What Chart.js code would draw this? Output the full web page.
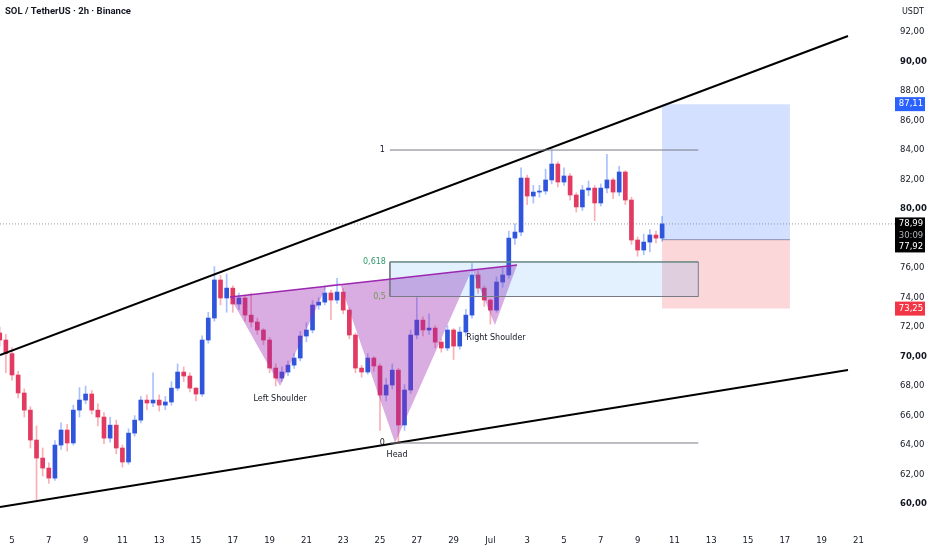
<!DOCTYPE html>
<html>
<head>
<meta charset="utf-8">
<script src="https://cdn.jsdelivr.net/npm/chart.js@4"></script>
<style>
  html, body { margin: 0; padding: 0; background: #ffffff; }
  #wrap { position: relative; width: 932px; height: 550px; }
</style>
</head>
<body>
<div id="wrap"><canvas id="solChart"></canvas></div>
<script>
// SOL/USDT, 8h candles (x = days since 5 June)
const firstOpen = 71.6;
const closes = [
  71.12, 70.2, 68.75, 67.53, 66.37, 64.34, 63.12, 62.44, 61.76, 64.0,
  65.02, 64.14, 66.37, 67.05, 67.46, 66.37, 65.9, 64.47, 65.35, 63.8,
  62.85, 64.81, 65.69, 67.05, 66.85, 67.05, 66.71, 66.92, 67.86, 68.95,
  68.68, 67.86, 67.46, 71.12, 72.61, 75.19, 73.97, 74.64, 73.56, 73.97,
  72.81, 72.34, 71.8, 71.12, 69.22, 68.54, 68.95, 69.42, 69.9, 71.39,
  71.8, 73.49, 73.69, 74.31, 73.83, 74.37, 73.15, 71.46, 69.22, 68.95,
  69.9, 69.36, 67.39, 68.07, 69.08, 65.36, 67.73, 71.46, 72.47, 71.8,
  71.93, 70.98, 70.58, 71.8, 70.71, 71.66, 72.81, 75.53, 74.64, 73.83,
  73.15, 75.05, 75.53, 78.03, 78.44, 82.1, 80.88, 81.15, 81.22, 81.97,
  83.05, 81.83, 82.24, 80.95, 80.14, 81.29, 81.42, 80.41, 81.42, 81.97,
  81.15, 82.51, 80.61, 77.9, 77.22, 77.76, 78.24, 78.03, 78.99
];
const highs = [
  72.0, 71.5, 70.6, 69.0, 67.8, 66.6, 65.3, 63.8, 62.8, 64.3,
  65.5, 65.4, 66.7, 67.9, 68.0, 67.7, 66.8, 66.2, 65.9, 65.7,
  64.0, 65.1, 66.0, 67.3, 67.4, 68.9, 67.4, 67.3, 68.3, 69.5,
  69.3, 68.9, 67.9, 71.4, 73.0, 76.1, 75.5, 75.6, 74.8, 74.3,
  74.1, 74.3, 72.6, 71.9, 71.3, 69.5, 69.3, 69.7, 70.2, 71.7,
  72.3, 73.8, 74.0, 74.8, 74.5, 75.3, 74.6, 73.3, 71.6, 69.4,
  70.2, 70.0, 69.5, 68.5, 69.5, 69.2, 68.1, 71.8, 74.0, 72.7,
  72.9, 72.1, 71.2, 72.1, 71.9, 72.0, 73.2, 76.3, 75.8, 74.8,
  73.9, 75.4, 76.0, 78.5, 79.0, 82.8, 82.3, 81.6, 81.6, 82.7,
  84.0, 83.2, 82.8, 82.4, 81.1, 81.6, 81.9, 81.6, 81.7, 83.7,
  82.1, 82.9, 82.6, 80.8, 78.1, 78.3, 78.6, 78.5, 79.5
];
const lows = [
  70.7, 68.9, 68.4, 67.2, 65.9, 63.8, 60.3, 61.9, 61.4, 61.6,
  63.7, 63.6, 64.0, 65.9, 66.8, 66.1, 65.3, 64.1, 64.2, 63.4,
  62.5, 62.7, 64.6, 65.5, 66.4, 66.6, 66.3, 66.4, 66.7, 67.7,
  68.3, 67.6, 67.0, 67.3, 70.9, 72.4, 73.5, 73.0, 73.0, 73.2,
  72.4, 72.0, 71.5, 70.8, 68.9, 68.0, 68.3, 68.7, 69.2, 69.7,
  71.0, 71.6, 73.2, 73.5, 72.5, 73.6, 72.9, 71.2, 68.9, 68.6,
  68.8, 69.0, 65.0, 67.0, 67.8, 64.1, 65.0, 67.5, 71.2, 71.4,
  71.5, 70.6, 70.3, 70.4, 69.8, 70.5, 71.4, 72.6, 74.3, 73.4,
  72.2, 73.0, 74.7, 75.3, 77.6, 78.2, 80.3, 80.4, 80.8, 81.0,
  81.7, 81.5, 81.6, 80.6, 79.8, 79.9, 80.9, 79.2, 80.2, 81.1,
  80.7, 80.9, 80.3, 77.6, 76.8, 76.9, 77.1, 77.7, 77.8
];
const xTickLabels = ['5','7','9','11','13','15','17','19','21','23','25','27','29',
  'Jul','3','5','7','9','11','13','15','17','19','21'];

// drawings (day, price)
const upperTrend = [[-0.652, 70.10], [45.435, 91.73]];
const lowerTrend = [[-0.652, 59.80], [45.435, 69.085]];
const hsPoints = [[11.85, 74.03], [14.57, 68.0], [17.12, 74.85], [17.83, 74.95],
  [20.82, 64.14], [25.0, 75.9], [26.25, 72.14], [27.45, 76.2]];
const fibHigh = 84.0, fibLow = 64.14;
const fibLevels = [0.618, 0.5];
const fibRange = [20.54, 37.3];
const lastPrice = 78.99, entry = 77.92, target = 87.11, stop = 73.25;
const positionRange = [35.33, 42.28];

const firstDay = -2 / 3;
const opens = closes.map((c, i) => i === 0 ? firstOpen : closes[i - 1]);
const bodies = closes.map((c, i) => ({ x: firstDay + i / 3, y: [opens[i], c] }));
const wicks = closes.map((c, i) => ({ x: firstDay + i / 3, y: [lows[i], highs[i]] }));
const isUp = i => closes[i] >= opens[i];

const pts = arr => arr.map(p => ({ x: p[0], y: p[1] }));
const rect = (x0, x1, y0, y1) => [{x: x0, y: y0}, {x: x1, y: y0}, {x: x1, y: y1}, {x: x0, y: y1}, {x: x0, y: y0}];
const fib618 = fibLow + fibLevels[0] * (fibHigh - fibLow);
const fib50 = fibLow + fibLevels[1] * (fibHigh - fibLow);

const X_MIN = -0.652, X_MAX = 47.99, Y_MIN = 58.92, Y_MAX = 94.17;
const font = "'DejaVu Sans', sans-serif";
const fmt = v => v.toFixed(2).replace('.', ',');

function line(data, color, width, extra) {
  return Object.assign({ type: 'line', data: data, borderColor: color, borderWidth: width,
    pointRadius: 0, fill: false, tension: 0, order: 1 }, extra || {});
}

const overlay = {
  id: 'overlay',
  afterDatasetsDraw(chart) {
    const c = chart.ctx, xs = chart.scales.x, ys = chart.scales.y;
    const px = v => xs.getPixelForValue(v), py = v => ys.getPixelForValue(v);
    c.save();
    c.textBaseline = 'middle';
    c.font = "8px 'DejaVu Sans', sans-serif";
    c.fillStyle = '#131722';
    c.textAlign = 'center';
    c.fillText('Left Shoulder', px(hsPoints[1][0]), py(hsPoints[1][1]) + 13);
    c.fillText('Head', px(hsPoints[4][0]) + 2, py(hsPoints[4][1]) + 12);
    c.fillText('Right Shoulder', px(hsPoints[6][0]) + 1, py(hsPoints[6][1]) + 13);
    c.textAlign = 'right';
    c.fillText('1', px(fibRange[0]) - 5, py(fibHigh));
    c.fillText('0', px(fibRange[0]) - 5, py(fibLow));
    c.fillStyle = '#2e9a6a';
    c.fillText('0,618', px(fibRange[0]) - 4, py(fib618));
    c.fillStyle = '#6e9a55';
    c.fillText('0,5', px(fibRange[0]) - 4, py(fib50));
    c.restore();
  },
  afterDraw(chart) {
    const c = chart.ctx, ys = chart.scales.y, ca = chart.chartArea;
    const py = v => ys.getPixelForValue(v);
    const bx = ca.right, bw = 30, cx = bx + bw / 2 + 1;
    c.save();
    c.textBaseline = 'middle';
    c.font = "bold 9.5px Roboto, sans-serif";
    c.fillStyle = '#131722';
    c.textAlign = 'left';
    c.fillText('SOL / TetherUS \u00b7 2h \u00b7 Binance', 5, 12);
    c.font = "8px " + font;
    c.textAlign = 'center';
    c.fillText('USDT', bx + 18, 12);
    const tag = (v, bg) => {
      const y = py(v);
      c.fillStyle = bg;
      c.fillRect(bx, y - 7, bw, 14);
      c.fillStyle = '#ffffff';
      c.fillText(fmt(v), cx, y);
    };
    c.font = "8.5px " + font;
    tag(target, '#2962ff');
    tag(stop, '#f23645');
    const y0 = py(lastPrice);
    c.fillStyle = '#000000';
    c.fillRect(bx, y0 - 6.5, bw, 35);
    c.fillStyle = '#ffffff';
    c.fillText(fmt(lastPrice), cx, y0);
    c.fillText(fmt(entry), cx, y0 + 23);
    c.fillStyle = '#b2b5be';
    c.fillText('30:09', cx, y0 + 11.5);
    c.restore();
  }
};

new Chart(document.getElementById('solChart'), {
  type: 'bar',
  data: {
    datasets: [
      line(rect(positionRange[0], positionRange[1], entry, target), 'rgba(0,0,0,0)', 0,
        { fill: 'shape', backgroundColor: 'rgba(41,98,255,0.2)', order: 9 }),
      line(rect(positionRange[0], positionRange[1], stop, entry), 'rgba(0,0,0,0)', 0,
        { fill: 'shape', backgroundColor: 'rgba(242,54,69,0.2)', order: 9 }),
      line([{x: positionRange[0], y: entry}, {x: positionRange[1], y: entry}], '#9598a1', 1, { order: 9 }),
      line([{x: X_MIN, y: lastPrice}, {x: X_MAX, y: lastPrice}], '#9598a1', 1, { borderDash: [1, 2], order: 8 }),
      {
        type: 'bar', data: wicks, grouped: false, barThickness: 1, order: 6,
        backgroundColor: ctx => isUp(ctx.dataIndex) ? 'rgba(41,98,255,0.4)' : 'rgba(242,54,69,0.4)'
      },
      {
        type: 'bar', data: bodies, grouped: false, barThickness: 4, minBarLength: 1, order: 5,
        backgroundColor: ctx => isUp(ctx.dataIndex) ? '#2f55dc' : '#e23a60'
      },
      line(rect(fibRange[0], fibRange[1], fib50, fib618), '#787b86', 1,
        { fill: 'shape', backgroundColor: 'rgba(33,150,243,0.13)', order: 2 }),
      line([{x: fibRange[0], y: fib618}, {x: fibRange[1], y: fib618}], '#3f9a6e', 1, { order: 2 }),
      line([{x: fibRange[0], y: fib50}, {x: fibRange[1], y: fib50}], '#5f9a50', 1, { order: 2 }),
      line([{x: fibRange[0], y: fibHigh}, {x: fibRange[1], y: fibHigh}], '#787b86', 1),
      line([{x: fibRange[0], y: fibLow}, {x: fibRange[1], y: fibLow}], '#787b86', 1),
      line(pts(hsPoints).concat([{x: hsPoints[0][0], y: hsPoints[0][1]}]), 'rgba(0,0,0,0)', 0,
        { fill: 'shape', backgroundColor: 'rgba(156,39,176,0.38)', order: 3 }),
      line(pts([hsPoints[0], hsPoints[7]]), '#9c27b0', 1.5, { order: 1 }),
      line(pts(upperTrend), '#000000', 2),
      line(pts(lowerTrend), '#000000', 2)
    ]
  },
  options: {
    responsive: true,
    maintainAspectRatio: false,
    animation: false,
    layout: { padding: 0 },
    plugins: { legend: { display: false }, tooltip: { enabled: false } },
    scales: {
      x: {
        type: 'linear', min: X_MIN, max: X_MAX, offset: false,
        grid: { display: false, drawTicks: false }, border: { display: false },
        afterFit: s => { s.height = 30; s.paddingLeft = 0; s.paddingRight = 0; },
        ticks: {
          stepSize: 2, includeBounds: false, autoSkip: false, maxRotation: 0, padding: 16,
          color: '#131722', font: { family: font, size: 8.5 },
          callback: v => (v >= 0 && v <= 46) ? (xTickLabels[v / 2] || '') : ''
        }
      },
      y: {
        type: 'linear', position: 'right', min: Y_MIN, max: Y_MAX, beginAtZero: false,
        grid: { display: false, drawTicks: false }, border: { display: false },
        afterFit: s => { s.width = 37; s.paddingTop = 0; s.paddingBottom = 0; },
        ticks: {
          stepSize: 2, includeBounds: false, padding: 5, color: '#131722',
          font: ctx => ({ family: font, size: 8.5, weight: (ctx.tick && ctx.tick.value % 10 === 0) ? 'bold' : 'normal' }),
          callback: v => v > 92 ? '' : fmt(v)
        }
      }
    }
  },
  plugins: [overlay]
});
</script>
</body>
</html>
